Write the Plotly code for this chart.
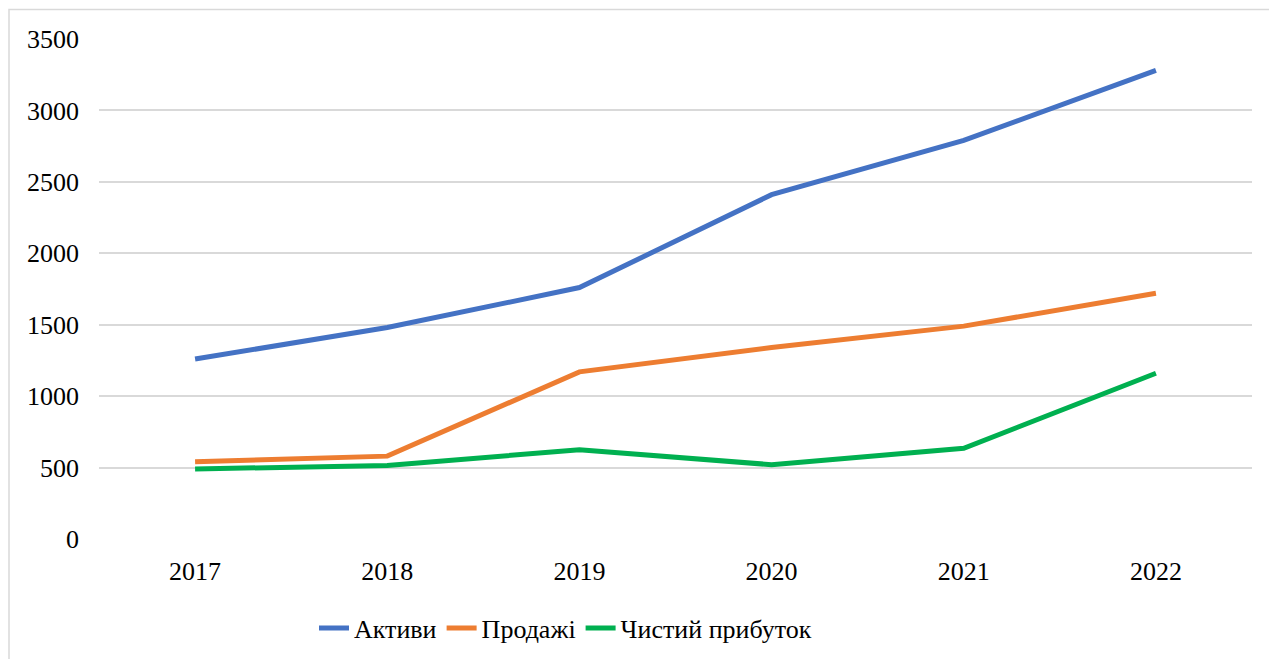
import plotly.graph_objects as go

years = ["2017", "2018", "2019", "2020", "2021", "2022"]
aktyvy = [1260, 1480, 1760, 2410, 2790, 3280]
prodazhi = [540, 580, 1170, 1340, 1490, 1720]
prybutok = [490, 515, 625, 520, 635, 1160]
y_ticks = [0, 500, 1000, 1500, 2000, 2500, 3000, 3500]

series = [
    ("Активи", aktyvy, "#4472C4"),
    ("Продажі", prodazhi, "#ED7D31"),
    ("Чистий прибуток", prybutok, "#00B050"),
]

fig = go.Figure()
for name, vals, color in series:
    fig.add_trace(go.Scatter(x=years, y=vals, name=name, mode="lines",
                             line=dict(color=color, width=5)))

font = dict(family="Liberation Serif, Times New Roman, serif", size=26, color="#000000")

W, H = 1269, 651
L, R, T, B = 91, 25, 31, 120
pw = W - L - R
ph = H - T - B

fig.update_layout(
    width=W, height=H,
    margin=dict(l=L, r=R, t=T, b=B, autoexpand=False),
    paper_bgcolor="white", plot_bgcolor="white",
    font=font,
    showlegend=True,
    legend=dict(orientation="h", x=(314 - 8 - L) / pw, xanchor="left",
                y=-89 / ph, yanchor="middle",
                font=font, traceorder="normal", tracegroupgap=0),
    xaxis=dict(type="category", range=[-0.5, 5.5], showgrid=False, showline=False,
               zeroline=False, ticks="", ticklabelstandoff=14, tickfont=font,
               automargin=False),
    yaxis=dict(range=[0, 3500], tickvals=y_ticks, showgrid=True, gridcolor="#D9D9D9",
               gridwidth=1.5, zeroline=False, showline=False, ticks="",
               ticklabelstandoff=19, tickfont=font, automargin=False),
    shapes=[dict(type="rect", xref="paper", yref="paper",
                 x0=(1 - L) / pw, x1=(W + 20 - L) / pw,
                 y0=-(B + 20) / ph, y1=(ph + T - 1.5) / ph,
                 line=dict(color="#D9D9D9", width=1.5), fillcolor="rgba(0,0,0,0)",
                 layer="below")],
)

fig.write_html("out.html")
